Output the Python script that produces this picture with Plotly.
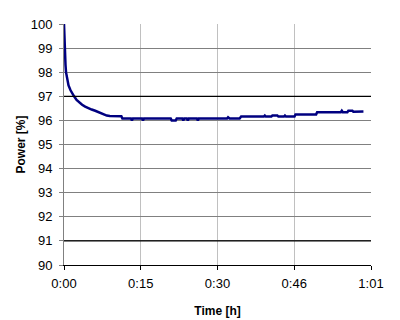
import plotly.graph_objects as go

time_min = [0, 0.03, 0.07, 0.13, 0.2, 0.3, 0.4, 0.6, 0.9, 1.3, 1.6, 2.0, 2.5, 3.0, 3.6, 4.2,
            4.8, 5.5, 6.2, 7.0, 7.8, 8.5, 9.1, 11.4, 11.6,
            13.3, 13.5, 13.7, 15.5, 15.7, 15.9, 21.2, 21.4, 22.2, 22.4,
            23.5, 23.7, 23.9, 24.4, 24.6, 24.8, 26.4, 26.6, 26.8,
            32.4, 32.6, 32.9, 34.9, 35.2,
            39.7, 39.9, 40.1, 41.2, 41.4, 42.4, 42.6, 43.7, 43.9, 44.1,
            45.8, 46.0, 50.1, 50.3, 55.0, 55.2, 55.4, 56.3, 56.5, 57.3, 57.5, 59.5]
power_pct = [100, 99.7, 99.4, 99.0, 98.7, 98.3, 98.0, 97.7, 97.45, 97.25, 97.12, 97.0, 96.85, 96.75, 96.65, 96.57,
             96.5, 96.45, 96.4, 96.32, 96.25, 96.2, 96.18, 96.17, 96.08,
             96.08, 96.0, 96.08, 96.08, 96.0, 96.08, 96.08, 96.0, 96.0, 96.08,
             96.08, 96.0, 96.08, 96.08, 96.0, 96.08, 96.08, 96.0, 96.08,
             96.08, 96.13, 96.08, 96.08, 96.16,
             96.16, 96.2, 96.16, 96.16, 96.2, 96.2, 96.16, 96.16, 96.2, 96.16,
             96.16, 96.25, 96.25, 96.34, 96.34, 96.4, 96.34, 96.34, 96.4, 96.4, 96.36, 96.37]

x_tickvals = [0, 15.25, 30.5, 45.75, 61]
x_ticktext = ["0:00", "0:15", "0:30", "0:46", "1:01"]
y_tickvals = [90, 91, 92, 93, 94, 95, 96, 97, 98, 99, 100]
dark_grid = [97, 91]

font = dict(family="Liberation Sans, Arial, sans-serif", size=12, color="black")
tick_font = dict(family="Liberation Sans, Arial, sans-serif", size=13, color="black")

fig = go.Figure()
fig.add_trace(go.Scatter(x=time_min, y=power_pct, mode="lines",
                         line=dict(color="#000080", width=2.5), showlegend=False))

for v in dark_grid:
    fig.add_shape(type="line", xref="paper", yref="y", x0=0, x1=1, y0=v, y1=v,
                  line=dict(color="black", width=1.2), layer="above")

# page body has an 8px default margin, so the figure is 8px smaller and shifted
fig.update_layout(
    width=392, height=312,
    margin=dict(l=56, r=29, t=16, b=55),
    paper_bgcolor="white", plot_bgcolor="white",
    font=font,
    xaxis=dict(range=[0, 61], tickvals=x_tickvals, ticktext=x_ticktext,
               automargin=False, tickfont=tick_font,
               showgrid=True, gridcolor="#c0c0c0", gridwidth=1,
               zeroline=False, showline=True, linecolor="black", linewidth=1,
               ticks="outside", ticklen=4, tickcolor="black", ticklabelstandoff=2,
               title=dict(text="<b>Time [h]</b>", standoff=17, font=font)),
    yaxis=dict(range=[90, 100], tickvals=y_tickvals,
               automargin=False, tickfont=tick_font,
               showgrid=True, gridcolor="#808080", gridwidth=1,
               zeroline=False, showline=True, linecolor="#808080", linewidth=1,
               ticks="outside", ticklen=4, tickcolor="#808080", ticklabelstandoff=4,
               title=dict(text="<b>Power [%]</b>", standoff=2, font=font)),
)

fig.write_html("out.html")
